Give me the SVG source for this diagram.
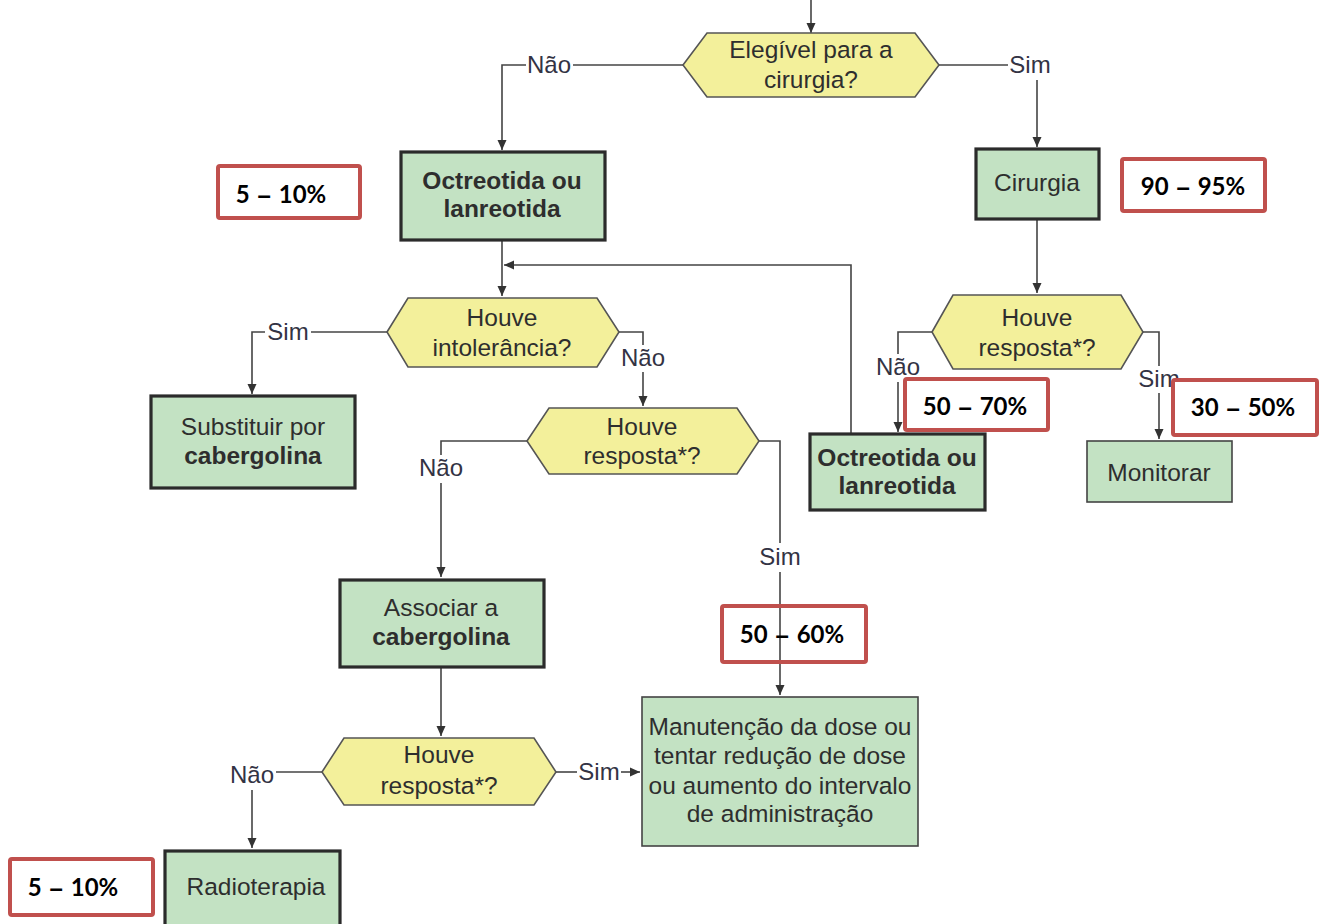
<svg xmlns="http://www.w3.org/2000/svg" width="1323" height="924" viewBox="0 0 1323 924">
<style>
.bg{fill:#ffffff}
.hex{fill:#f3f09b;stroke:#555555;stroke-width:1.6}
.box{fill:#c3e2c3;stroke:#2b2b2b;stroke-width:3.2}
.boxt{fill:#c3e2c3;stroke:#444444;stroke-width:1.6}
.t{font-family:"Liberation Sans",Arial,sans-serif;font-size:24.5px;fill:#2e2e2e;text-anchor:middle}
.b{font-weight:bold}
.lbl{font-family:"Liberation Sans",Arial,sans-serif;font-size:24px;fill:#333344;text-anchor:middle}
.ln{fill:none;stroke:#444444;stroke-width:1.6}
.red{fill:#ffffff;stroke:#c0504d;stroke-width:4}
.redn{fill:none;stroke:#c0504d;stroke-width:4}
.rt{font-family:Lato,"Open Sans",sans-serif;font-weight:bold;font-size:24px;fill:#000000;text-anchor:middle;word-spacing:2px}
.dash{font-family:"Liberation Sans",Arial,sans-serif}
</style>
<defs>
<marker id="arr" markerUnits="userSpaceOnUse" markerWidth="11" markerHeight="10" refX="10" refY="5" orient="auto">
<path d="M0,0.5 L10,5 L0,9.5 z" fill="#333333"/>
</marker>
</defs>
<rect class="bg" x="0" y="0" width="1323" height="924"/>

<g id="connectors">
<path class="ln" d="M811,0 V33" marker-end="url(#arr)"/>
<path class="ln" d="M683,65 H573"/>
<path class="ln" d="M526,65 H502 V150" marker-end="url(#arr)"/>
<text class="lbl" x="549" y="73">Não</text>
<path class="ln" d="M939,65 H1008"/>
<text class="lbl" x="1030" y="73">Sim</text>
<path class="ln" d="M1037,80 V147" marker-end="url(#arr)"/>
<path class="ln" d="M502,241 V296" marker-end="url(#arr)"/>
<path class="ln" d="M851,433 V265 H504" marker-end="url(#arr)"/>
<path class="ln" d="M387,332 H311"/>
<text class="lbl" x="288" y="340">Sim</text>
<path class="ln" d="M265,332 H252 V394" marker-end="url(#arr)"/>
<path class="ln" d="M619,332 H643 V345"/>
<text class="lbl" x="643" y="366">Não</text>
<path class="ln" d="M643,372 V406" marker-end="url(#arr)"/>
<path class="ln" d="M527,441 H441 V455"/>
<text class="lbl" x="441" y="476">Não</text>
<path class="ln" d="M441,483 V577" marker-end="url(#arr)"/>
<path class="ln" d="M759,441 H780 V543"/>
<text class="lbl" x="780" y="565">Sim</text>
<path class="ln" d="M780,572 V695" marker-end="url(#arr)"/>
<path class="ln" d="M1037,220 V293" marker-end="url(#arr)"/>
<path class="ln" d="M932,332 H898 V354"/>
<text class="lbl" x="898" y="375">Não</text>
<path class="ln" d="M898,382 V432" marker-end="url(#arr)"/>
<path class="ln" d="M1143,332 H1159 V366"/>
<text class="lbl" x="1159" y="387">Sim</text>
<path class="ln" d="M1159,393 V439" marker-end="url(#arr)"/>
<path class="ln" d="M441,668 V736" marker-end="url(#arr)"/>
<path class="ln" d="M556,772 H577"/>
<text class="lbl" x="599" y="780">Sim</text>
<path class="ln" d="M621,772 H640" marker-end="url(#arr)"/>
<path class="ln" d="M322,772 H276"/>
<text class="lbl" x="252" y="783">Não</text>
<path class="ln" d="M252,790 V848" marker-end="url(#arr)"/>
</g>

<g id="n-elegivel">
<polygon class="hex" points="683,65 707,33 915,33 939,65 915,97 707,97"/>
<text class="t" x="811" y="58">Elegível para a</text>
<text class="t" x="811" y="88">cirurgia?</text>
</g>
<g id="n-octreotida1">
<rect class="box" x="401" y="152" width="204" height="88"/>
<text class="t b" x="502" y="189">Octreotida ou</text>
<text class="t b" x="502" y="217">lanreotida</text>
</g>
<g id="n-cirurgia">
<rect class="box" x="976" y="149" width="123" height="70"/>
<text class="t" x="1037" y="191">Cirurgia</text>
</g>
<g id="n-intolerancia">
<polygon class="hex" points="387,332 408,298 597,298 619,332 597,367 408,367"/>
<text class="t" x="502" y="326">Houve</text>
<text class="t" x="502" y="356">intolerância?</text>
</g>
<g id="n-substituir">
<rect class="box" x="151" y="396" width="204" height="92"/>
<text class="t" x="253" y="435">Substituir por</text>
<text class="t b" x="253" y="464">cabergolina</text>
</g>
<g id="n-resposta2">
<polygon class="hex" points="527,441 549,408 737,408 759,441 737,474 549,474"/>
<text class="t" x="642" y="435">Houve</text>
<text class="t" x="642" y="464">resposta*?</text>
</g>
<g id="n-resposta1">
<polygon class="hex" points="932,332 953,295 1121,295 1143,332 1121,369 953,369"/>
<text class="t" x="1037" y="326">Houve</text>
<text class="t" x="1037" y="356">resposta*?</text>
</g>
<g id="n-octreotida2">
<rect class="box" x="810" y="434" width="175" height="76"/>
<text class="t b" x="897" y="466">Octreotida ou</text>
<text class="t b" x="897" y="494">lanreotida</text>
</g>
<g id="n-monitorar">
<rect class="boxt" x="1087" y="441" width="145" height="61"/>
<text class="t" x="1159" y="481">Monitorar</text>
</g>
<g id="n-associar">
<rect class="box" x="340" y="580" width="204" height="87"/>
<text class="t" x="441" y="616">Associar a</text>
<text class="t b" x="441" y="645">cabergolina</text>
</g>
<g id="n-resposta3">
<polygon class="hex" points="322,772 344,738 534,738 556,772 534,805 344,805"/>
<text class="t" x="439" y="763">Houve</text>
<text class="t" x="439" y="794">resposta*?</text>
</g>
<g id="n-manutencao">
<rect class="boxt" x="642" y="697" width="276" height="149"/>
<text class="t" x="780" y="735">Manutenção da dose ou</text>
<text class="t" x="780" y="764">tentar redução de dose</text>
<text class="t" x="780" y="794">ou aumento do intervalo</text>
<text class="t" x="780" y="822">de administração</text>
</g>
<g id="n-radioterapia">
<rect class="box" x="165" y="851" width="175" height="82"/>
<text class="t" x="256" y="895">Radioterapia</text>
</g>

<g id="r-5-10-top">
<rect class="red" x="218" y="166" width="142" height="52" rx="2"/>
<text class="rt" x="281" y="203">5 <tspan class="dash">–</tspan> 10%</text>
</g>
<g id="r-90-95">
<rect class="red" x="1122" y="159" width="143" height="52" rx="2"/>
<text class="rt" x="1193" y="195">90 <tspan class="dash">–</tspan> 95%</text>
</g>
<g id="r-50-70">
<rect class="red" x="905" y="379" width="143" height="51" rx="2"/>
<text class="rt" x="975" y="415">50 <tspan class="dash">–</tspan> 70%</text>
</g>
<g id="r-30-50">
<rect class="red" x="1173" y="380" width="144" height="55" rx="2"/>
<text class="rt" x="1243" y="416">30 <tspan class="dash">–</tspan> 50%</text>
</g>
<g id="r-50-60">
<rect class="redn" x="722" y="606" width="144" height="56" rx="2"/>
<text class="rt" x="792" y="643">50 <tspan class="dash">–</tspan> 60%</text>
</g>
<g id="r-5-10-bottom">
<rect class="red" x="10" y="859" width="143" height="56" rx="2"/>
<text class="rt" x="73" y="896">5 <tspan class="dash">–</tspan> 10%</text>
</g>
</svg>
